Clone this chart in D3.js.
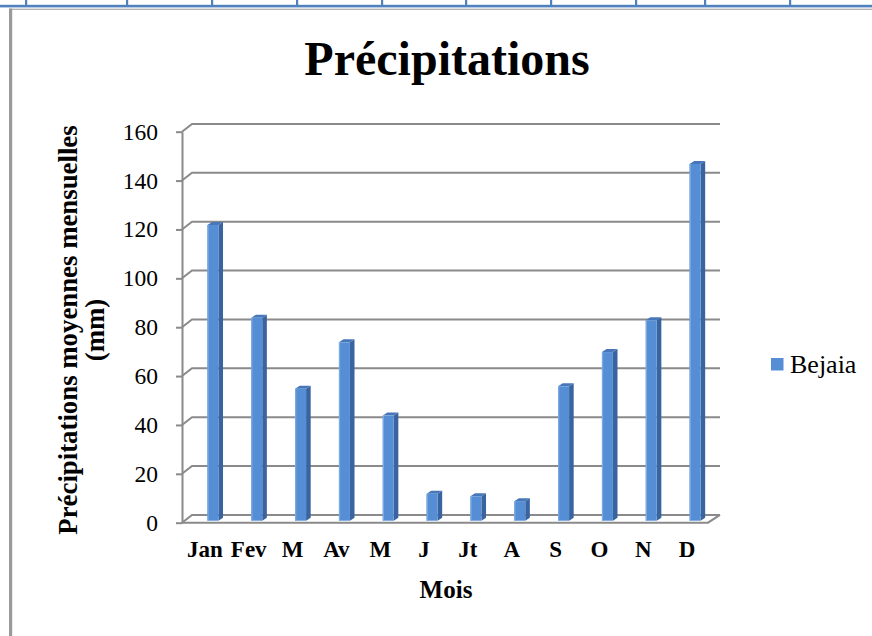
<!DOCTYPE html>
<html>
<head>
<meta charset="utf-8">
<script src="https://cdn.jsdelivr.net/npm/d3@7"></script>
<style>
  html, body { margin: 0; padding: 0; background: #fff; }
  svg { display: block; }
  text { font-family: "Liberation Serif", "Times New Roman", serif; fill: #000; }
</style>
</head>
<body>
<svg id="chart" width="872" height="636"></svg>
<script>
// Monthly mean precipitation at Bejaia (mm)
const months = ["Jan", "Fev", "M", "Av", "M ", "J", "Jt", "A", "S", "O", "N", "D"];
const monthLabels = ["Jan", "Fev", "M", "Av", "M", "J", "Jt", "A", "S", "O", "N", "D"];
const bejaia = [121, 83, 54, 73, 43, 11, 10, 8, 55, 69, 82, 146];
const yTicks = [0, 20, 40, 60, 80, 100, 120, 140, 160];
const seriesName = "Bejaia";
const chartTitle = "Précipitations";
const yTitle = ["Précipitations moyennes mensuelles", "(mm)"];
const xTitle = "Mois";

const svg = d3.select("#chart");

// ---- page frame (table border above the chart and left rule) ----
const frame = svg.append("g");
frame.append("rect").attr("x", 0).attr("y", 4.8).attr("width", 872).attr("height", 2.6).attr("fill", "#4f81bd");
[26, 127, 212, 297, 382, 466, 551, 636, 705, 790].forEach(px => {
  frame.append("rect").attr("x", px - 1).attr("y", 0).attr("width", 2.2).attr("height", 6).attr("fill", "#4f81bd");
});
frame.append("rect").attr("x", 9).attr("y", 8.6).attr("width", 863).attr("height", 1.4).attr("fill", "#b4b4b4");
frame.append("rect").attr("x", 9).attr("y", 8.6).attr("width", 3.2).attr("height", 628).attr("fill", "#9a9a9a");

// ---- 3D plot geometry: front plane scales + oblique offsets ----
const x = d3.scaleBand().domain(months).range([182, 708]);
const y = d3.scaleLinear().domain([0, 160]).range([522.7, 131.7]);
const wall = { dx: 10, dy: -7.8 };       // front plane -> back wall
const barShift = { dx: 9, dy: -2 };      // front plane -> bar front face
const barDepth = { dx: 4.6, dy: -3 };    // bar front face -> bar back face
const barW = 11;

const gridColor = "#8a8a8a";
const grid = svg.append("g").attr("stroke", gridColor).attr("stroke-width", 2).attr("fill", "none");

// back-wall gridlines with their diagonal connectors to the axis
yTicks.forEach(v => {
  const yf = y(v);
  grid.append("path").attr("d", `M${x.range()[0]},${yf} L${x.range()[0] + wall.dx},${yf + wall.dy} L${x.range()[1] + wall.dx + 2},${yf + wall.dy}`);
});
// floor front edge and right edge
grid.append("path").attr("d", `M${x.range()[0]},${y(0)} L${x.range()[1]},${y(0)} L${x.range()[1] + wall.dx + 2},${y(0) + wall.dy}`);

// vertical axis with ticks and labels
const yAxis = d3.axisLeft(y).tickValues(yTicks).tickSize(6).tickSizeOuter(0).tickPadding(18).tickFormat(d3.format("d"));
const ax = svg.append("g").attr("transform", `translate(${x.range()[0]},0)`).call(yAxis);
ax.select(".domain").attr("stroke", gridColor).attr("stroke-width", 2);
ax.selectAll(".tick line").attr("stroke", gridColor).attr("stroke-width", 2);
ax.selectAll(".tick text").attr("font-family", "Liberation Serif, Times New Roman, serif").attr("font-size", 23.5).attr("fill", "#000");

// ---- bars (front, side, top faces) ----
const bars = svg.append("g");
months.forEach((m, i) => {
  const v = bejaia[i];
  const x0 = x(m) + x.bandwidth() / 2 + barShift.dx - barW / 2;
  const x1 = x0 + barW;
  const yb = y(0) + barShift.dy;
  const yt = y(v) + barShift.dy;
  const g = bars.append("g");
  // side face
  g.append("path")
    .attr("d", `M${x1},${yb} L${x1},${yt} L${x1 + barDepth.dx},${yt + barDepth.dy} L${x1 + barDepth.dx},${yb + barDepth.dy} Z`)
    .attr("fill", "#3a64a0");
  // top face
  g.append("path")
    .attr("d", `M${x0},${yt} L${x1},${yt} L${x1 + barDepth.dx},${yt + barDepth.dy} L${x0 + barDepth.dx},${yt + barDepth.dy} Z`)
    .attr("fill", "#4777b8");
  // front face
  g.append("rect").attr("x", x0).attr("y", yt).attr("width", barW).attr("height", yb - yt).attr("fill", "#558ed5");
  g.append("rect").attr("x", x0).attr("y", yt).attr("width", 1.2).attr("height", yb - yt).attr("fill", "#7eaae3");
});

// ---- category labels ----
svg.append("g").selectAll("text").data(months).join("text")
  .attr("x", d => x(d) + x.bandwidth() / 2 + 1)
  .attr("y", 557)
  .attr("text-anchor", "middle")
  .attr("font-size", 23)
  .attr("font-weight", "bold")
  .text((d, i) => monthLabels[i]);

// ---- titles ----
svg.append("text").attr("x", 447).attr("y", 75).attr("text-anchor", "middle")
  .attr("font-size", 48).attr("font-weight", "bold").text(chartTitle);

svg.append("text").attr("x", 446).attr("y", 598).attr("text-anchor", "middle")
  .attr("font-size", 25).attr("font-weight", "bold").text(xTitle);

const yt = svg.append("g").attr("transform", "translate(0,330) rotate(-90)");
yt.append("text").attr("x", 0).attr("y", 77).attr("text-anchor", "middle")
  .attr("font-size", 26.8).attr("font-weight", "bold").text(yTitle[0]);
yt.append("text").attr("x", 0).attr("y", 104).attr("text-anchor", "middle")
  .attr("font-size", 26.8).attr("font-weight", "bold").text(yTitle[1]);

// ---- legend ----
const lg = svg.append("g").attr("transform", "translate(771,358)");
lg.append("rect").attr("width", 12.5).attr("height", 12.5).attr("fill", "#558ed5");
lg.append("text").attr("x", 19).attr("y", 15.3).attr("font-size", 26).text(seriesName);
</script>
</body>
</html>
